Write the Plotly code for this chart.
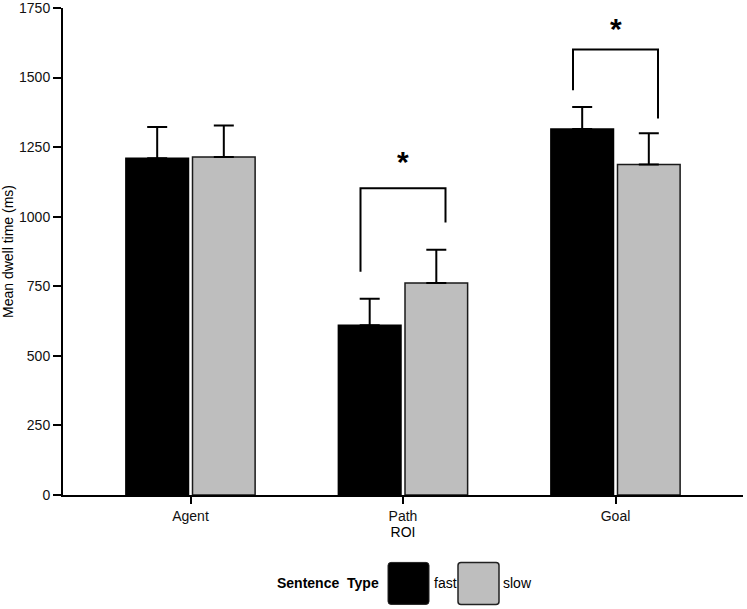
import plotly.graph_objects as go

categories = ["Agent", "Path", "Goal"]
fast_mean = [1210, 610, 1315]
fast_err = [112, 95, 79]
slow_mean = [1215, 762, 1188]
slow_err = [113, 119, 112]
y_ticks = [0, 250, 500, 750, 1000, 1250, 1500, 1750]

# significance brackets: category index, top y, left leg bottom, right leg bottom
sig_cats = [1, 2]
sig_top = [1102, 1601]
sig_left_bottom = [802, 1454]
sig_right_bottom = [979, 1353]
sig_star_y = [1199, 1675]

FONT = "Arial, Liberation Sans, sans-serif"
GRAY = "#bebebe"

fig = go.Figure()
fig.add_trace(go.Bar(
    x=categories, y=fast_mean, name="fast",
    marker=dict(color="black", line=dict(color="black", width=1.5)),
    error_y=dict(type="data", array=fast_err, arrayminus=[0]*3, symmetric=False,
                 color="black", thickness=2, width=10),
))
fig.add_trace(go.Bar(
    x=categories, y=slow_mean, name="slow",
    marker=dict(color=GRAY, line=dict(color="#1a1a1a", width=1.5)),
    error_y=dict(type="data", array=slow_err, arrayminus=[0]*3, symmetric=False,
                 color="black", thickness=2, width=10),
))

shapes = []
annotations = []
for c, top, lb, rb, sy in zip(sig_cats, sig_top, sig_left_bottom, sig_right_bottom, sig_star_y):
    xl, xr = c - 0.2, c + 0.2
    shapes.append(dict(type="path", xref="x", yref="y",
                       path=f"M {xl} {lb} L {xl} {top} L {xr} {top} L {xr} {rb}",
                       line=dict(color="black", width=2)))
    annotations.append(dict(x=c, y=sy, xref="x", yref="y", text="<b>*</b>",
                            showarrow=False, font=dict(family=FONT, size=30, color="black"),
                            yanchor="middle"))

# legend drawn in paper coordinates
L, R, T, B = 63, 743, 8, 495.5
def px(xp):
    return (xp - L) / (R - L)
def py(yp):
    return (B - yp) / (B - T)

def rounded(x0, y0, x1, y1, r=3):
    X0, X1 = px(x0), px(x1)
    Y0, Y1 = py(y0), py(y1)
    rx = r / (R - L)
    ry = r / (B - T)
    return (f"M {X0+rx} {Y0} L {X1-rx} {Y0} Q {X1} {Y0} {X1} {Y0-ry} "
            f"L {X1} {Y1+ry} Q {X1} {Y1} {X1-rx} {Y1} L {X0+rx} {Y1} "
            f"Q {X0} {Y1} {X0} {Y1+ry} L {X0} {Y0-ry} Q {X0} {Y0} {X0+rx} {Y0} Z")

shapes.append(dict(type="path", xref="paper", yref="paper",
                   path=rounded(388, 563, 429, 605), fillcolor="black",
                   line=dict(color="#222", width=1)))
shapes.append(dict(type="path", xref="paper", yref="paper",
                   path=rounded(458, 563, 499, 605), fillcolor=GRAY,
                   line=dict(color="#222", width=1.5)))
annotations.append(dict(x=px(381), y=py(584), xref="paper", yref="paper",
                        text="<b>Sentence  Type</b>", showarrow=False, xanchor="right",
                        yanchor="middle", font=dict(family=FONT, size=14, color="black")))
annotations.append(dict(x=px(432), y=py(584), xref="paper", yref="paper",
                        text="fast", showarrow=False, xanchor="left",
                        yanchor="middle", font=dict(family=FONT, size=14, color="black")))
annotations.append(dict(x=px(501), y=py(584), xref="paper", yref="paper",
                        text="slow", showarrow=False, xanchor="left",
                        yanchor="middle", font=dict(family=FONT, size=14, color="black")))

fig.update_layout(
    width=747, height=609,
    margin=dict(l=63, r=4, t=8, b=113.5, autoexpand=False),
    paper_bgcolor="white", plot_bgcolor="white",
    barmode="group", bargap=0.373, bargroupgap=0.06,
    showlegend=False,
    font=dict(family=FONT, size=14, color="black"),
    shapes=shapes, annotations=annotations,
    xaxis=dict(range=[-0.6, 2.6], showline=True, linecolor="black", linewidth=2,
               ticks="outside", ticklen=7, tickwidth=1.5, tickcolor="black",
               showgrid=False, zeroline=False, automargin=False,
               tickfont=dict(family=FONT, size=14, color="#111"),
               title=dict(text="ROI", font=dict(family=FONT, size=14), standoff=4)),
    yaxis=dict(range=[0, 1750], tickvals=y_ticks, showline=True, linecolor="black",
               linewidth=2, ticks="outside", ticklen=8, tickwidth=1.5, tickcolor="black",
               showgrid=False, zeroline=False, automargin=False,
               ticklabeloverflow="allow",
               tickfont=dict(family=FONT, size=14, color="#111"),
               title=dict(text="Mean dwell time (ms)", font=dict(family=FONT, size=14),
                          standoff=8)),
)

fig.write_html("out.html", config={"displayModeBar": False},
               post_script="document.body.style.margin='0px';")
